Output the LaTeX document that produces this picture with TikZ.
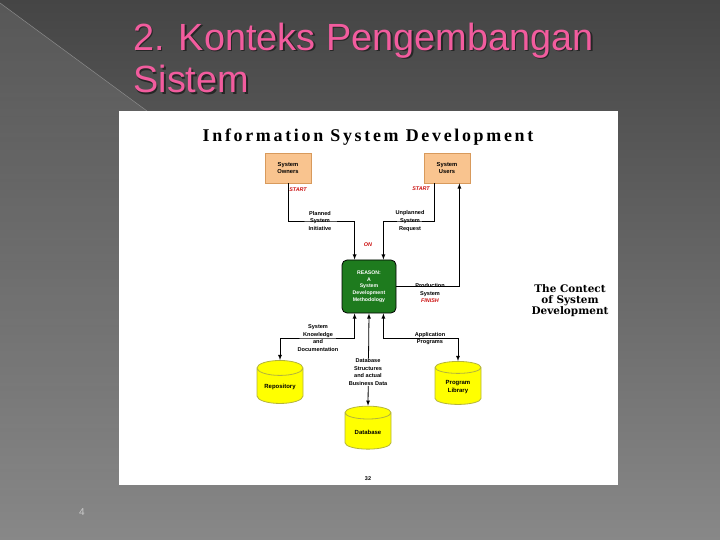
\documentclass[tikz,border=0pt]{standalone}
\usepackage{fontspec}
\setmainfont{Liberation Sans}
\newfontfamily\headfont[LetterSpace=15]{Liberation Serif}
\newfontfamily\contextfont{DejaVu Serif}
\usetikzlibrary{shapes.geometric,positioning,calc,fadings}

\definecolor{slidetop}{HTML}{454545}
\definecolor{slidebottom}{HTML}{888888}
\definecolor{slideline}{HTML}{8C8C8C}
\definecolor{titlepink}{HTML}{F25C9E}
\definecolor{actorfill}{HTML}{F9C48F}
\definecolor{actordraw}{HTML}{D89A5C}
\definecolor{methodgreen}{HTML}{1E7B1E}
\definecolor{storefill}{HTML}{FFFF00}
\definecolor{storedraw}{HTML}{B4B43C}
\definecolor{flagred}{HTML}{CC1010}

\tikzset{
    titletext/.style={anchor=base west, align=left, inner sep=0pt, text=titlepink,
        font=\fontsize{38}{43}\selectfont},
    actor/.style={draw=actordraw, fill=actorfill, minimum width=46bp, minimum height=30bp,
        align=center, inner sep=1bp, font=\fontsize{5.8}{7.5}\selectfont\bfseries},
    method/.style={draw=black, fill=methodgreen, rounded corners=5bp, minimum width=54bp,
        minimum height=53bp, align=center, inner sep=1bp, text=white,
        font=\fontsize{5.2}{6.7}\selectfont\bfseries},
    store/.style={cylinder, shape border rotate=90, aspect=0.45, draw=storedraw, fill=storefill,
        minimum width=46bp, minimum height=43bp, align=center, inner sep=1bp,
        font=\fontsize{6}{8}\selectfont\bfseries},
    lbl/.style={align=center, inner sep=0.5bp, font=\fontsize{5.6}{7.6}\selectfont\bfseries},
    flag/.style={inner sep=0pt, text=flagred, font=\fontsize{5.4}{6}\selectfont\bfseries\itshape},
}

\begin{document}
\begin{tikzpicture}[>=latex, x=1bp, y=-1bp, line width=0.8bp]
    % Latar belakang slide
    \useasboundingbox (0,0) rectangle (720,540);
    \shade[top color=slidetop, bottom color=slidebottom] (0,0) rectangle (720,540);
    \fill[white, opacity=0.1, path fading=south] (0,3) -- (147,111) -- (119,111) -- (119,540) -- (0,540) -- cycle;
    \draw[slideline, line width=0.5bp] (0,3) -- (147,111);

    % Judul slide
    \node[titletext, text=black!85] (titleshadow) at (134.5,94.5) {2. Konteks Pengembangan\\Sistem};
    \node[titletext] (title) at (133,93) {2. Konteks Pengembangan\\Sistem};
    \node[text=black!20, font=\fontsize{10}{12}\selectfont] (slideno) at (82,512) {4};

    % Panel gambar
    \fill[white] (119,111) rectangle (618,485);
    \node[font=\fontsize{18}{20}\selectfont\headfont\bfseries] (heading) at (368,137) {Information System Development};
    \node[align=center, font=\fontsize{10.5}{11}\selectfont\contextfont\bfseries] (context) at (570,301)
        {The Contect\\of System\\Development};

    % Pemilik, pengguna dan metodologi
    \node[actor] (owners) at (288,168) {System\\Owners};
    \node[actor] (users) at (447,168) {System\\Users};
    \node[method] (method) at (369,286.5) {REASON:\\A\\System\\Development\\Methodology};

    % Tempat penyimpanan
    \node[store] (repo) at (280,387) {Repository};
    \node[store] (lib) at (458,387) {Program\\Library};
    \node[store] (db) at (368,432) {Database};

    % Label alur
    \node[lbl] (planned) at (320,221) {Planned\\System\\Initiative};
    \node[lbl] (unplanned) at (410,221) {Unplanned\\System\\Request};
    \node[lbl] (knowledge) at (318,338) {System\\Knowledge\\and\\Documentation};
    \node[lbl] (application) at (430,338.5) {Application\\Programs};

    % Alur masuk dan keluar
    \draw[->] (owners.south) |- (planned.center) -| ([xshift=13bp]method.north west);
    \draw[->] ([xshift=11bp]users.south west) |- (unplanned.center) -| ([xshift=-13bp]method.north east);
    \draw[->] (method.east) -| ([xshift=-11bp]users.south east);
    \draw[<->] ([xshift=13bp]method.south west) |- (knowledge.center) -| (repo.north);
    \draw[<->] ([xshift=-13bp]method.south east) |- (application.center) -| (lib.north);
    \draw[<->] (method.south) -- (db.north);
    \node[lbl, fill=white] (dbdata) at (368,372) {Database\\Structures\\and actual\\Business Data};
    \node[lbl] (production) at (430,290) {Production\\System};

    % Penanda
    \node[flag] (start1) at (298,190) {START};
    \node[flag] (start2) at (421,189) {START};
    \node[flag] (on) at (368,245) {ON};
    \node[flag] (finish) at (430,301) {FINISH};
    \node[font=\fontsize{5.5}{6}\selectfont\bfseries] (pageno) at (368,479) {32};
\end{tikzpicture}
\end{document}
